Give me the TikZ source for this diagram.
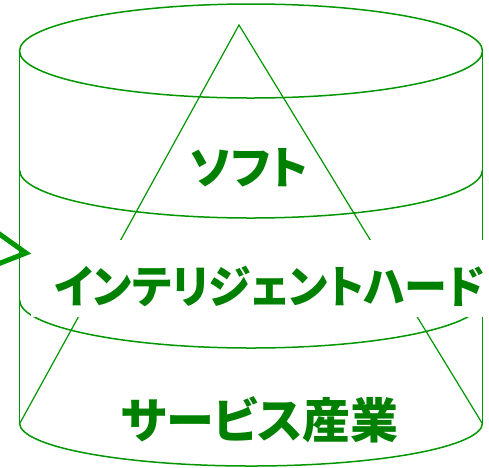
\documentclass[tikz,border=0pt]{standalone}
\usepackage{fontspec}
\newfontfamily\jpfont{Noto Sans CJK JP}[RawFeature=+palt]
\definecolor{linegreen}{RGB}{0,150,0}
\definecolor{textgreen}{RGB}{0,128,0}
\tikzset{
  layerline/.style={draw=linegreen, line width=1.5pt},
  coneline/.style={draw=linegreen, line width=1.2pt},
  layertext/.style={text=textgreen, font=\jpfont\bfseries\fontsize{45}{45}\selectfont, anchor=base, inner sep=0pt}
}
\begin{document}
\begin{tikzpicture}[x=1pt, y=-1pt]
  \useasboundingbox (0,0) rectangle (489,467);

  % Draw cylinder
  \draw[layerline] (251,51) ellipse [x radius=231.5pt, y radius=47pt];
  \draw[layerline] (19.5,170) arc [start angle=180, end angle=360, x radius=231.5pt, y radius=48pt];
  \draw[layerline] (19.5,300) arc [start angle=180, end angle=360, x radius=231.5pt, y radius=48pt];
  \draw[layerline] (19.5,423) arc [start angle=180, end angle=360, x radius=231.5pt, y radius=43pt];
  \draw[layerline] (19.5,51) -- (19.5,423);
  \draw[layerline] (482.5,51) -- (482.5,423);

  % Draw triangle
  \coordinate (apex) at (239,25);
  \coordinate (baseL) at (20,423);
  \coordinate (baseR) at (482,423);
  \draw[coneline] (baseL) -- (apex) -- (baseR);

  % Layer labels
  \node[layertext] (soft) at (249,184) {ソフト};
  \node[layertext, fill=white, text height=63pt, text depth=13.5pt, inner xsep=0pt, minimum width=478pt] (hard) at (269.5,303) {\scalebox{0.955}[1]{インテリジェントハード}};
  \node[layertext, font=\jpfont\bfseries\fontsize{48}{48}\selectfont] (service) at (260,438) {サービス産業};

  % Pointer
  \coordinate (ptrA) at (-2,233);
  \coordinate (ptrB) at (26,253);
  \coordinate (ptrC) at (-2,264);
  \draw[draw=linegreen, line width=5pt] (ptrA) -- (ptrB) -- (ptrC);
\end{tikzpicture}
\end{document}
